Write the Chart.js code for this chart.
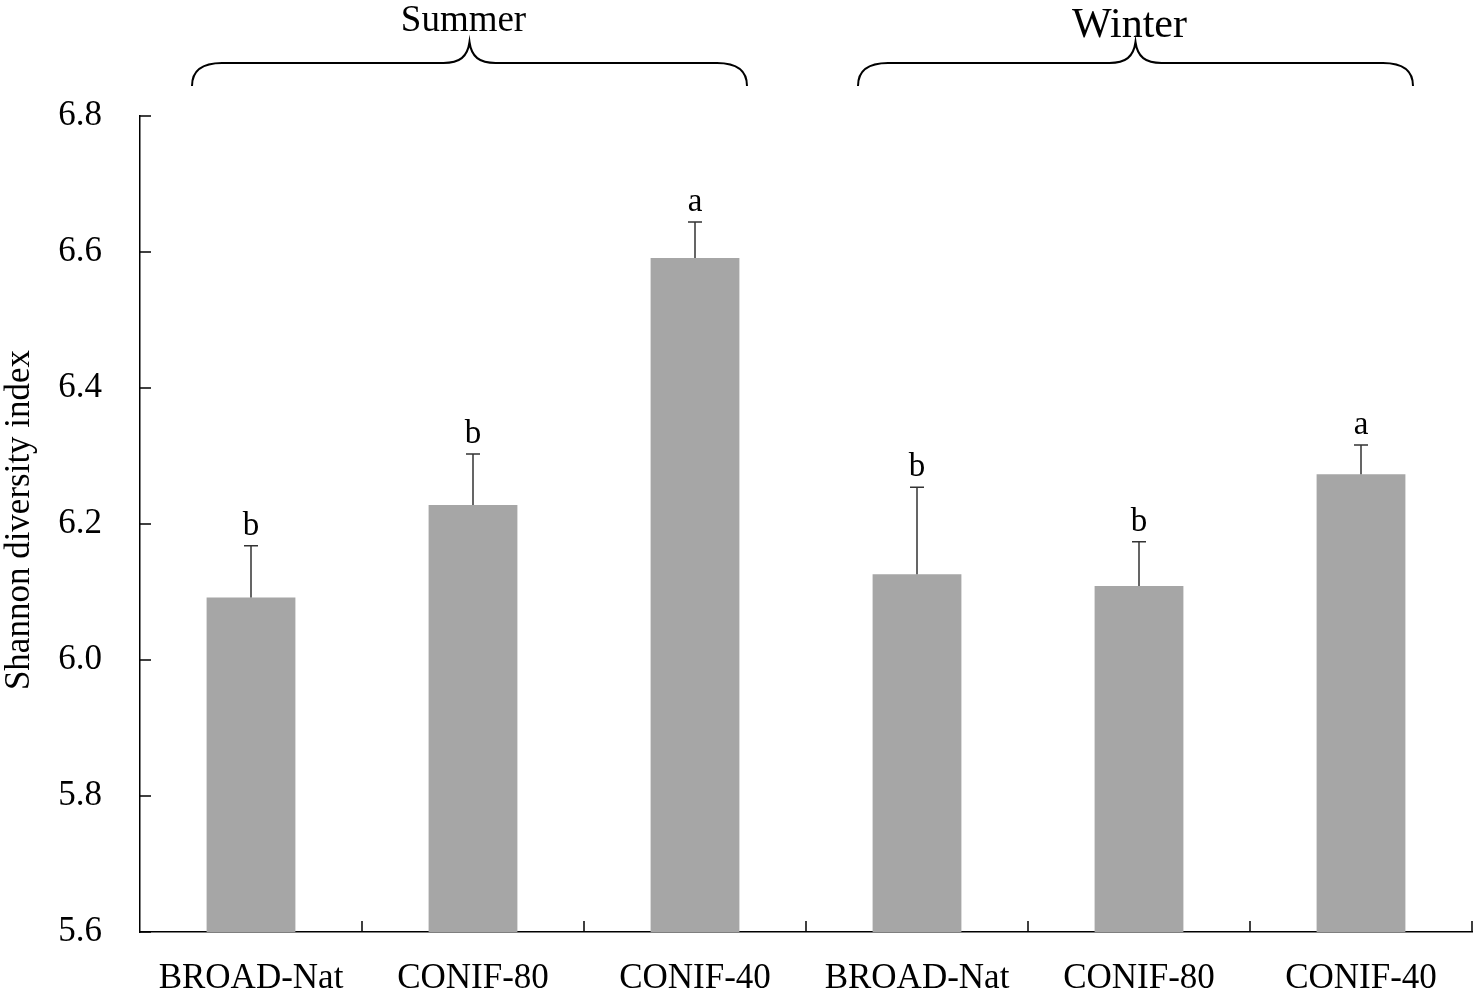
<!DOCTYPE html>
<html>
<head>
<meta charset="utf-8">
<script src="https://cdn.jsdelivr.net/npm/chart.js@4.4.1/dist/chart.umd.min.js"></script>
<style>
html,body{margin:0;padding:0;background:#fff;}
#wrap{width:1480px;height:992px;position:relative;}
</style>
</head>
<body>
<div id="wrap"><canvas id="c" width="1480" height="992"></canvas></div>
<script>
const categories = ["BROAD-Nat","CONIF-80","CONIF-40","BROAD-Nat","CONIF-80","CONIF-40"];
const means = [6.092, 6.228, 6.591, 6.126, 6.109, 6.273];
const errors = [0.076, 0.075, 0.053, 0.128, 0.065, 0.043];
const letters = ["b","b","a","b","b","a"];
const groups = [{label:"Summer", from:0, to:2, size:37},{label:"Winter", from:3, to:5, size:42}];
const yTicks = [5.6,5.8,6.0,6.2,6.4,6.6,6.8];

const FONT = "'Liberation Serif','Times New Roman',serif";

const overlay = {
  id:'overlay',
  afterDatasetsDraw(chart){
    const ctx = chart.ctx;
    const xs = chart.scales.x, ys = chart.scales.y;
    const ca = chart.chartArea;
    ctx.save();
    // error bars
    ctx.strokeStyle = '#333';
    ctx.lineWidth = 1.5;
    means.forEach((m,i)=>{
      const x = xs.getPixelForValue(i);
      const y0 = ys.getPixelForValue(m);
      const y1 = ys.getPixelForValue(m+errors[i]);
      ctx.beginPath();
      ctx.moveTo(x,y0); ctx.lineTo(x,y1);
      ctx.moveTo(x-7,y1); ctx.lineTo(x+7,y1);
      ctx.stroke();
      ctx.fillStyle = '#000';
      ctx.font = '33px ' + FONT;
      ctx.textAlign = 'center';
      ctx.textBaseline = 'alphabetic';
      ctx.fillText(letters[i], x, y1-11);
    });
    // axis ticks inward
    ctx.strokeStyle = '#000';
    ctx.lineWidth = 1.5;
    yTicks.forEach(v=>{
      const y = ys.getPixelForValue(v);
      ctx.beginPath(); ctx.moveTo(ca.left, y); ctx.lineTo(ca.left+11, y); ctx.stroke();
    });
    const step = (ca.right-ca.left)/categories.length;
    for(let k=1;k<=categories.length;k++){
      const x = ca.left + step*k;
      ctx.beginPath(); ctx.moveTo(x, ca.bottom); ctx.lineTo(x, ca.bottom-11); ctx.stroke();
    }
    // y title
    ctx.save();
    ctx.translate(20, (ca.top+ca.bottom)/2 - 4);
    ctx.rotate(-Math.PI/2);
    ctx.fillStyle = '#000';
    ctx.font = '35px ' + FONT;
    ctx.textAlign = 'center';
    ctx.textBaseline = 'middle';
    ctx.fillText('Shannon diversity index', 0, 0);
    ctx.restore();
    // braces
    groups.forEach(g=>{
      const L = xs.getPixelForValue(g.from) - 59;
      const R = xs.getPixelForValue(g.to) + 52;
      const C = (L+R)/2;
      const yEnd = 86, yH = 63, yC = 42, r = 30;
      ctx.lineWidth = 2;
      ctx.beginPath();
      ctx.moveTo(L, yEnd);
      ctx.bezierCurveTo(L, yH+6, L+12, yH, L+r, yH);
      ctx.lineTo(C-26, yH);
      ctx.bezierCurveTo(C-10, yH, C-2, yH-6, C, yC);
      ctx.bezierCurveTo(C+2, yH-6, C+10, yH, C+26, yH);
      ctx.lineTo(R-r, yH);
      ctx.bezierCurveTo(R-12, yH, R, yH+6, R, yEnd);
      ctx.stroke();
      ctx.fillStyle = '#000';
      ctx.font = g.size + 'px ' + FONT;
      ctx.textAlign = 'center';
      ctx.textBaseline = 'alphabetic';
      ctx.fillText(g.label, C-6, g.label==='Winter'?37:31);
    });
    ctx.restore();
  }
};

new Chart(document.getElementById('c'), {
  type:'bar',
  data:{
    labels: categories,
    datasets:[{
      data: means,
      backgroundColor:'#a6a6a6',
      borderWidth:0,
      barPercentage:0.4,
      categoryPercentage:1.0,
      base:5.6
    }]
  },
  options:{
    responsive:false,
    animation:false,
    devicePixelRatio:1,
    layout:{padding:{left:0,right:8,top:116,bottom:0}},
    plugins:{legend:{display:false},tooltip:{enabled:false},title:{display:false}},
    scales:{
      x:{
        grid:{display:false, drawTicks:false},
        border:{display:true,color:'#000',width:1.5},
        ticks:{color:'#000',font:{family:FONT,size:35},padding:26,maxRotation:0,autoSkip:false},
        afterFit(s){ s.height = 60; }
      },
      y:{
        min:5.6,max:6.8,
        grid:{display:false, drawTicks:false},
        border:{display:true,color:'#000',width:1.5},
        ticks:{color:'#000',font:{family:FONT,size:35},padding:38,stepSize:0.2,
          callback:(v)=>Number(v).toFixed(1)},
        afterFit(s){ s.width = 140; }
      }
    }
  },
  plugins:[overlay]
});
</script>
</body>
</html>
